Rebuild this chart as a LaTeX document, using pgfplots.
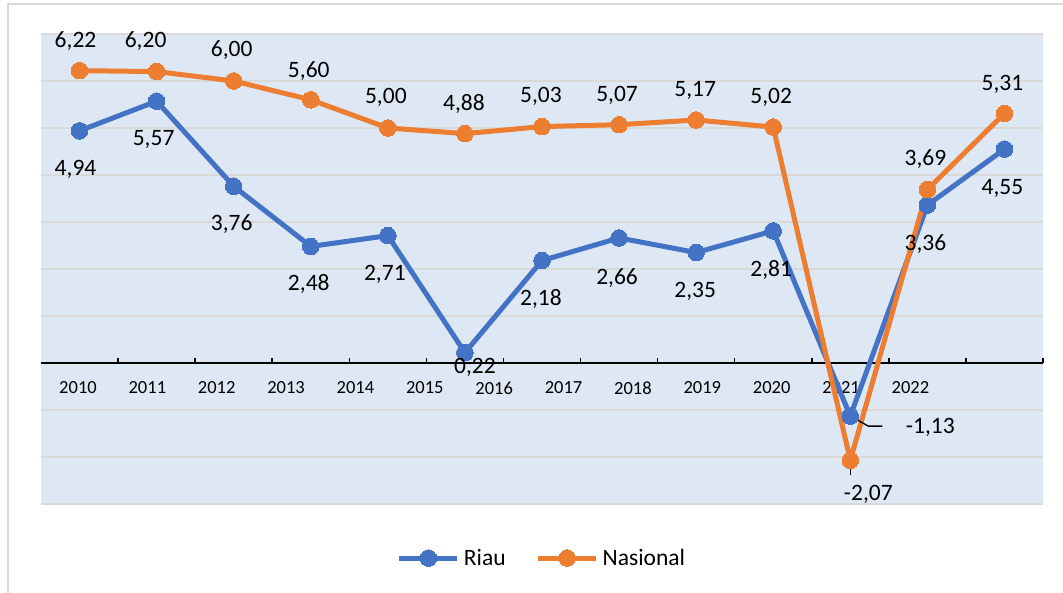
\documentclass[border=0pt]{standalone}
\usepackage{pgfplots}
\pgfplotsset{compat=1.18}
\usepackage{pgfplotstable}
\usepackage{fontspec}
\setmainfont{Carlito}
\definecolor{riau}{HTML}{4472C4}
\definecolor{nas}{HTML}{ED7D31}
\definecolor{bgblue}{HTML}{DDE8F4}
\definecolor{gridgray}{HTML}{D9D9D9}

\pgfplotstableread{
x y lab dx dy
0 4.94 4,94 -4 -39
1 5.57 5,57 -3 -38
2 3.76 3,76 -2 -38
3 2.48 2,48 -2 -38
4 2.71 2,71 -3 -39
5 0.22 0,22 10 -15
6 2.18 2,18 -1 -38
7 2.66 2,66 -2 -40
8 2.35 2,35 -1 -39
9 2.81 2,81 -2 -39
10 -1.13 -1,13 80 -11
11 3.36 3,36 -2 -39
12 4.55 4,55 -2 -39
}\riautab

\pgfplotstableread{
x y lab dx dy
0 6.22 6,22 -4 30
1 6.20 6,20 -11 31
2 6.00 6,00 -2 31
3 5.60 5,60 -2 29
4 5.00 5,00 -2 31
5 4.88 4,88 -1 30
6 5.03 5,03 -1 30
7 5.07 5,07 -2 29
8 5.17 5,17 -1 30
9 5.02 5,02 -2 30
10 -2.07 -2,07 18 -34
11 3.69 3,69 -2 30
12 5.31 5,31 -2 29
}\nastab

\pgfplotsset{
  labelled/.style={
    visualization depends on={\thisrow{dx}\as\mydx},
    visualization depends on={\thisrow{dy}\as\mydy},
    nodes near coords,
    point meta=explicit symbolic,
    every node near coord/.style={anchor=center, text=black,
      font=\fontsize{23.5}{27}\selectfont, xshift={\mydx*1pt}, yshift={\mydy*1pt}},
  }
}

\begin{document}
\begin{tikzpicture}
\useasboundingbox (0pt,0pt) rectangle (1063pt,593pt);
\draw[gridgray, line width=2pt] (7.5pt,-5pt) -- (7.5pt,588.5pt) -- (1070pt,588.5pt);
\begin{axis}[
  at={(41pt,89pt)}, anchor=south west,
  width=1002pt, height=470pt, scale only axis,
  xmin=-0.5, xmax=12.5, ymin=-3, ymax=7,
  axis background/.style={fill=bgblue},
  axis x line=middle, axis y line*=left,
  x axis line style={-, black, line width=2pt},
  y axis line style={draw=none},
  ytick={-3,...,7}, yticklabels={}, ytick style={draw=none},
  ymajorgrids, major grid style={gridgray, line width=1.5pt},
  xtick={-0.5,0.5,...,12.5}, xticklabels={},
  xtick style={black, line width=1.5pt},
  tick align=inside, major tick length=5pt,
  extra x ticks={-0.02,0.88,1.78,2.68,3.58,4.48,5.38,6.28,7.18,8.08,8.98,9.88,10.78},
  extra x tick labels={\mbox{2010},\mbox{2011},\mbox{2012},\mbox{2013},\mbox{2014},\mbox{2015},\mbox{2016},\mbox{2017},\mbox{2018},\mbox{2019},\mbox{2020},\mbox{2021},\mbox{2022}},
  extra x tick style={major tick length=0pt},
  xticklabel style={font=\fontsize{18.5}{22}\selectfont, anchor=center, yshift=-25pt},
  clip=false,
  legend columns=2,
  legend style={at={(0.5,-0.115)}, anchor=center, draw=none, fill=none,
    font=\fontsize{23.5}{27}\selectfont,
    /tikz/every even column/.append style={column sep=28pt},
    /tikz/every odd column/.append style={column sep=2pt}},
  legend image code/.code={\draw[#1, mark repeat=2, mark phase=2] plot coordinates {(0pt,0pt) (29pt,0pt) (58pt,0pt)};},
]
\addplot[riau, line width=5pt, line join=round, mark=*, mark size=8.3pt,
  mark options={solid, fill=riau, draw=riau, line width=0pt}, labelled]
  table[x=x, y=y, meta=lab] {\riautab};
\addlegendentry{Riau}
\addplot[nas, line width=5pt, line join=round, mark=*, mark size=8.3pt,
  mark options={solid, fill=nas, draw=nas, line width=0pt}, labelled]
  table[x=x, y=y, meta=lab] {\nastab};
\addlegendentry{Nasional}
\draw[black, line width=1.3pt] (10,-1.13) -- ++(18pt,-10pt) -- ++(14pt,0pt);
\draw[black, line width=1.3pt] (10,-2.07) -- ++(0pt,-15pt);
\end{axis}
\end{tikzpicture}
\end{document}
